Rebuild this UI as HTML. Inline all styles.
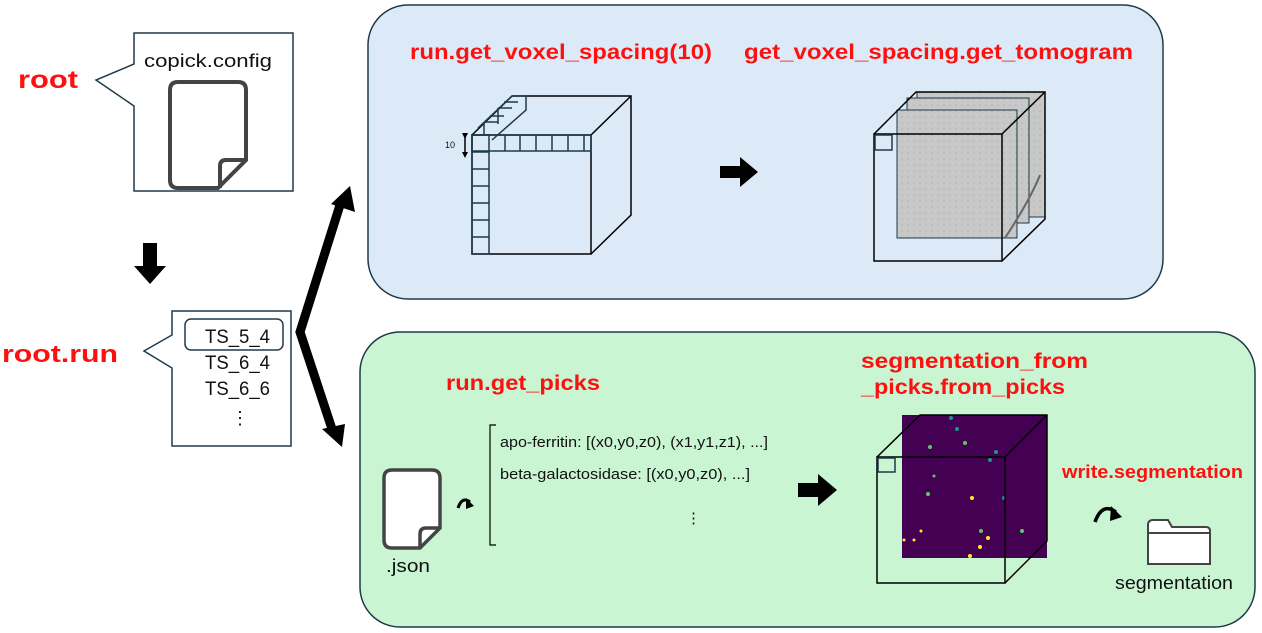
<!DOCTYPE html>
<html><head><meta charset="utf-8"><style>html,body{margin:0;padding:0;background:#fff}svg{display:block}text{font-family:"Liberation Sans",sans-serif}</style></head><body>
<svg width="1262" height="633" viewBox="0 0 1262 633" xmlns="http://www.w3.org/2000/svg">
<defs>
<pattern id="gr" width="6" height="6" patternUnits="userSpaceOnUse"><rect width="6" height="6" fill="#c8c8c8"/><circle cx="2" cy="3" r="0.8" fill="#b0b0b0"/></pattern>
<marker id="ah" markerWidth="4" markerHeight="4" refX="2" refY="2" orient="auto"><path d="M0,0 L4,2 L0,4 z" fill="#000"/></marker>
</defs>
<rect x="368" y="5" width="795" height="294" rx="40" fill="#dce9f6" stroke="#1f3a4a" stroke-width="1.5"/>
<rect x="360" y="332" width="895" height="295" rx="40" fill="#c9f5d3" stroke="#1f3a4a" stroke-width="1.5"/>
<text x="18" y="88" font-size="25" font-weight="bold" fill="#ff1010" textLength="60" lengthAdjust="spacingAndGlyphs">root</text>
<text x="2" y="362" font-size="24" font-weight="bold" fill="#ff1010" textLength="116" lengthAdjust="spacingAndGlyphs">root.run</text>
<path d="M134,33 H293 V191 H134 V106 L96,80 L134,64 Z" fill="#fff" stroke="#1f3a4a" stroke-width="1.5"/>
<text x="144" y="67" font-size="18" fill="#111" textLength="128" lengthAdjust="spacingAndGlyphs">copick.config</text>
<path d="M178,82 H238 Q246,82 246,90 V160 L218,188 H178 Q170,188 170,180 V90 Q170,82 178,82 Z" fill="#fff" stroke="#444" stroke-width="4"/>
<path d="M246,160 H226 Q220,160 220,166 V188" fill="none" stroke="#444" stroke-width="4"/>
<path d="M143,243 H157 V266 H166 L150,284 L134,266 H143 Z" fill="#000"/>
<path d="M172,311 H291 V446 H172 V368 L144,351 L172,335 Z" fill="#fff" stroke="#1f3a4a" stroke-width="1.5"/>
<rect x="185" y="319" width="98" height="31" rx="6" fill="#fff" stroke="#1f3a4a" stroke-width="1.5"/>
<text x="205" y="343" font-size="19" fill="#111" textLength="65" lengthAdjust="spacingAndGlyphs">TS_5_4</text>
<text x="205" y="369" font-size="19" fill="#111" textLength="65" lengthAdjust="spacingAndGlyphs">TS_6_4</text>
<text x="205" y="395" font-size="19" fill="#111" textLength="65" lengthAdjust="spacingAndGlyphs">TS_6_6</text>
<text x="231" y="424" font-size="18" fill="#111">⋮</text>
<polyline points="340,205 300,332 333,432" fill="none" stroke="#000" stroke-width="9" stroke-linejoin="miter"/>
<path d="M350,186 L355,212 L331,204 Z" fill="#000"/>
<path d="M342,447 L322,429 L345,424 Z" fill="#000"/>
<text x="410" y="59" font-size="21" font-weight="bold" fill="#ff1010" textLength="302" lengthAdjust="spacingAndGlyphs">run.get_voxel_spacing(10)</text>
<text x="744" y="59" font-size="21" font-weight="bold" fill="#ff1010" textLength="389" lengthAdjust="spacingAndGlyphs">get_voxel_spacing.get_tomogram</text>
<g fill="none" stroke="#000" stroke-width="1.5">
<rect x="472" y="135" width="119" height="119"/>
<polyline points="472,135 512,96 631,96 631,215 591,254"/><line x1="591" y1="135" x2="631" y2="96"/>
</g>
<g fill="none" stroke="#1c3a48" stroke-width="1.5">
<rect x="472" y="135" width="17" height="119"/><rect x="472" y="135" width="119" height="16"/>
<line x1="472" y1="152" x2="489" y2="152"/><line x1="472" y1="169" x2="489" y2="169"/><line x1="472" y1="186" x2="489" y2="186"/><line x1="472" y1="203" x2="489" y2="203"/><line x1="472" y1="220" x2="489" y2="220"/><line x1="472" y1="237" x2="489" y2="237"/>
<line x1="505" y1="135" x2="505" y2="151"/><line x1="520" y1="135" x2="520" y2="151"/><line x1="536" y1="135" x2="536" y2="151"/><line x1="552" y1="135" x2="552" y2="151"/><line x1="568" y1="135" x2="568" y2="151"/><line x1="584" y1="135" x2="584" y2="151"/>
<path d="M478,128 L512,96 H526 V110 L492,140"/><path d="M484,122 H498 M490,116 H504 M498,108 H512 M504,102 H518 M484,122 V136 M498,108 V124"/>
</g>
<text x="445" y="148" font-size="9" fill="#111">10</text>
<line x1="465" y1="136" x2="465" y2="155" stroke="#000" stroke-width="1.5" marker-start="url(#ah)" marker-end="url(#ah)"/>
<path d="M720,166 H740 V157 L758,172 L740,187 V178 H720 Z" fill="#000"/>
<rect x="917" y="92" width="128" height="125" fill="url(#gr)" stroke="#1c3a48"/>
<rect x="907" y="98" width="122" height="125" fill="url(#gr)" stroke="#1c3a48"/>
<rect x="897" y="110" width="120" height="128" fill="url(#gr)" stroke="#1c3a48"/>
<path d="M1005,238 Q1030,200 1040,175" stroke="#666" stroke-width="2" fill="none"/>
<g fill="none" stroke="#000" stroke-width="1.5">
<rect x="874" y="134" width="128" height="127"/>
<polyline points="874,134 916,92 1045,92 1045,219 1002,261"/><line x1="1002" y1="134" x2="1045" y2="92"/>
</g>
<rect x="875" y="135" width="17" height="15" fill="none" stroke="#1c3a48" stroke-width="1.5"/>
<text x="446" y="390" font-size="21" font-weight="bold" fill="#ff1010" textLength="154" lengthAdjust="spacingAndGlyphs">run.get_picks</text>
<path d="M392,470 H432 Q440,470 440,478 V528 L420,548 H392 Q384,548 384,540 V478 Q384,470 392,470 Z" fill="#fff" stroke="#444" stroke-width="3.5"/>
<path d="M440,528 H426 Q420,528 420,534 V548" fill="none" stroke="#444" stroke-width="3.5"/>
<text x="386" y="572" font-size="18" fill="#111" textLength="44" lengthAdjust="spacingAndGlyphs">.json</text>
<path d="M458,508 Q462,496 470,502" fill="none" stroke="#000" stroke-width="3"/><path d="M466,498 L474,506 L466,509 Z" fill="#000"/>
<path d="M496,425 H490 V545 H496" fill="none" stroke="#000" stroke-width="1.2"/>
<text x="500" y="447" font-size="15" fill="#111" textLength="268" lengthAdjust="spacingAndGlyphs">apo-ferritin: [(x0,y0,z0), (x1,y1,z1), ...]</text>
<text x="500" y="479" font-size="15" fill="#111" textLength="250" lengthAdjust="spacingAndGlyphs">beta-galactosidase: [(x0,y0,z0), ...]</text>
<text x="686" y="523" font-size="15" fill="#111">⋮</text>
<path d="M798,483 H818 V474 L837,490 L818,506 V497 H798 Z" fill="#000"/>
<text x="861" y="368" font-size="21" font-weight="bold" fill="#ff1010" textLength="227" lengthAdjust="spacingAndGlyphs">segmentation_from</text>
<text x="861" y="394" font-size="21" font-weight="bold" fill="#ff1010" textLength="204" lengthAdjust="spacingAndGlyphs">_picks.from_picks</text>
<rect x="902" y="415" width="145" height="143" fill="#440154"/>
<g fill="#5ec962"><circle cx="930" cy="447" r="2"/><circle cx="965" cy="443" r="2"/><circle cx="928" cy="494" r="2"/><circle cx="1022" cy="531" r="2"/><circle cx="981" cy="531" r="2"/><circle cx="934" cy="476" r="1.5"/></g>
<g fill="#21918c"><circle cx="951" cy="418" r="2"/><circle cx="957" cy="429" r="2"/><circle cx="996" cy="452" r="2"/><circle cx="990" cy="460" r="2"/><circle cx="1004" cy="498" r="2"/></g>
<g fill="#fde725"><circle cx="972" cy="498" r="2"/><circle cx="921" cy="531" r="1.5"/><circle cx="914" cy="540" r="1.5"/><circle cx="988" cy="538" r="2"/><circle cx="980" cy="547" r="2"/><circle cx="970" cy="556" r="2"/><circle cx="904" cy="540" r="1.5"/></g>
<g fill="none" stroke="#000" stroke-width="1.5">
<rect x="877" y="457" width="128" height="126"/>
<polyline points="877,457 920,415 1047,415 1047,541 1005,583"/><line x1="1005" y1="457" x2="1047" y2="415"/>
</g>
<rect x="878" y="458" width="17" height="14" fill="none" stroke="#1c3a48" stroke-width="1.5"/>
<text x="1062" y="478" font-size="18" font-weight="bold" fill="#ff1010" textLength="181" lengthAdjust="spacingAndGlyphs">write.segmentation</text>
<path d="M1095,522 Q1102,502 1116,512" fill="none" stroke="#000" stroke-width="3.5"/><path d="M1111,506 L1122,517 L1110,521 Z" fill="#000"/>
<path d="M1148,525 Q1148,520 1153,520 H1168 L1172,527 H1206 Q1210,527 1210,531 V564 H1148 Z" fill="#fff" stroke="#444" stroke-width="2"/>
<line x1="1148" y1="533" x2="1210" y2="533" stroke="#444" stroke-width="2"/>
<text x="1115" y="589" font-size="18" fill="#111" textLength="118" lengthAdjust="spacingAndGlyphs">segmentation</text>
</svg>
</body></html>
